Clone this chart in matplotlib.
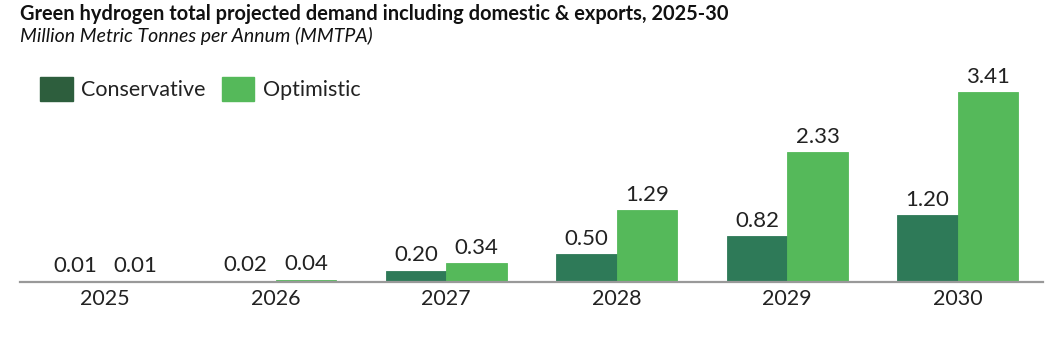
import matplotlib.pyplot as plt
import numpy as np
from matplotlib.patches import Patch

plt.rcParams['font.family'] = ['Lato', 'DejaVu Sans']

years = ["2025", "2026", "2027", "2028", "2029", "2030"]
conservative = [0.01, 0.02, 0.20, 0.50, 0.82, 1.20]
optimistic = [0.01, 0.04, 0.34, 1.29, 2.33, 3.41]

dark = "#2e7a58"
light = "#55b95a"

fig = plt.figure(figsize=(10.63, 3.52), dpi=100)
ax = fig.add_axes([20/1063, 70/352, 1023/1063, 222/352])

x = np.arange(len(years))
w = 0.355
b1 = ax.bar(x - w/2, conservative, width=w, color=dark, edgecolor=dark, linewidth=0.6)
b2 = ax.bar(x + w/2, optimistic, width=w, color=light, edgecolor=light, linewidth=0.6)
ax.bar_label(b1, fmt="%.2f", padding=4, fontsize=16, color="#222222")
ax.bar_label(b2, fmt="%.2f", padding=4, fontsize=16, color="#222222")

ax.set_xlim(-0.5, len(years) - 0.5)
ax.set_ylim(0, 222/55.7)
ax.set_xticks(x)
ax.set_xticklabels(years, fontsize=15.5, color="#222222")
ax.tick_params(axis="x", length=0, pad=5)
ax.set_yticks([])
for s in ["top", "right", "left"]:
    ax.spines[s].set_visible(False)
ax.spines["bottom"].set_color("#999999")
ax.spines["bottom"].set_linewidth(1.6)

fig.text(20/1063, 1 - 14/352, "Green hydrogen total projected demand including domestic & exports, 2025-30",
         fontsize=14.4, fontweight="bold", color="#111111", va="center")
fig.text(20/1063, 1 - 36/352, "Million Metric Tonnes per Annum (MMTPA)",
         fontsize=14, style="italic", color="#111111", va="center")

handles = [Patch(color="#2d5e3d"), Patch(color=light)]
fig.legend(handles, ["Conservative", "Optimistic"], loc="center left",
           bbox_to_anchor=(21/1063, 1 - 89/352), ncol=2, frameon=False,
           fontsize=15.5, handlelength=1.5, handleheight=1.3, handletextpad=0.4,
           columnspacing=0.75, labelcolor="#222222")

fig.savefig("out.png", dpi=100)
plt.close(fig)
